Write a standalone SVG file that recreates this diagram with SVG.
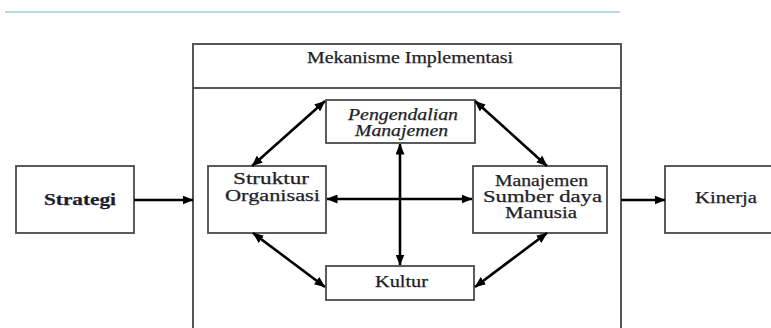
<svg xmlns="http://www.w3.org/2000/svg" width="771" height="328" viewBox="0 0 771 328">
  <defs>
    <style>
      .box { fill: #fff; stroke: #4a4a4a; stroke-width: 1.8; }
      .outer { fill: #fff; stroke: #555; stroke-width: 2; }
      .t { font-family: 'Liberation Serif', 'DejaVu Serif', 'Times New Roman', Times, serif; font-size: 16px; fill: #1e1e2a; text-anchor: middle; stroke: #1e1e2a; stroke-width: 0.25; }
      .it { font-style: italic; }
      .con { stroke: #000; stroke-width: 2.6; fill: none; }
      .one { marker-end: url(#ah); }
      .two { marker-start: url(#ah); marker-end: url(#ah); }
    </style>
    <marker id="ah" markerUnits="userSpaceOnUse" markerWidth="11" markerHeight="9" refX="10.5" refY="4.5" orient="auto-start-reverse" viewBox="0 0 11 9">
      <path d="M0,0 L11,4.5 L0,9 z" fill="#000"/>
    </marker>
  </defs>

  <line x1="5" y1="12" x2="620" y2="12" stroke="#9fcbe3" stroke-width="1.5"/>

  <g id="mekanisme">
    <rect class="outer" x="193" y="44" width="428" height="300"/>
    <line x1="193" y1="88" x2="621" y2="88" stroke="#555" stroke-width="2"/>
    <text class="t" x="410" y="63" font-family="Liberation Serif, serif" font-size="15" textLength="206" lengthAdjust="spacingAndGlyphs">Mekanisme Implementasi</text>
  </g>

  <g id="strategi">
    <rect class="box" x="16" y="166" width="118" height="67"/>
    <text class="t" x="80" y="205" font-family="Liberation Serif, serif" font-weight="bold" textLength="72" lengthAdjust="spacingAndGlyphs">Strategi</text>
  </g>

  <g id="pengendalian">
    <rect class="box" x="326" y="100" width="149" height="43"/>
    <text class="t it" x="403" y="120" font-family="Liberation Serif, serif" textLength="110" lengthAdjust="spacingAndGlyphs">Pengendalian</text>
    <text class="t it" x="401.5" y="136" font-family="Liberation Serif, serif" textLength="93" lengthAdjust="spacingAndGlyphs">Manajemen</text>
  </g>

  <g id="struktur">
    <rect class="box" x="208" y="166" width="118" height="67"/>
    <text class="t" x="271" y="184" font-family="Liberation Serif, serif" textLength="76" lengthAdjust="spacingAndGlyphs">Struktur</text>
    <text class="t" x="272.5" y="201" font-family="Liberation Serif, serif" textLength="95" lengthAdjust="spacingAndGlyphs">Organisasi</text>
  </g>

  <g id="sdm">
    <rect class="box" x="473" y="166" width="134" height="67"/>
    <text class="t" x="541.5" y="186" font-family="Liberation Serif, serif" textLength="93" lengthAdjust="spacingAndGlyphs">Manajemen</text>
    <text class="t" x="542.5" y="202" font-family="Liberation Serif, serif" textLength="119" lengthAdjust="spacingAndGlyphs">Sumber daya</text>
    <text class="t" x="541" y="218" font-family="Liberation Serif, serif" textLength="72" lengthAdjust="spacingAndGlyphs">Manusia</text>
  </g>

  <g id="kultur">
    <rect class="box" x="326" y="266" width="148" height="34"/>
    <text class="t" x="401.5" y="287" font-family="Liberation Serif, serif" textLength="53" lengthAdjust="spacingAndGlyphs">Kultur</text>
  </g>

  <g id="kinerja">
    <rect class="box" x="665" y="166" width="120" height="67"/>
    <text class="t" x="726" y="203" font-family="Liberation Serif, serif" textLength="62" lengthAdjust="spacingAndGlyphs">Kinerja</text>
  </g>

  <g id="connectors">
    <line class="con one" x1="134" y1="200" x2="193" y2="200"/>
    <line class="con one" x1="621" y1="200" x2="665" y2="200"/>
    <line class="con two" x1="327" y1="199" x2="472" y2="199"/>
    <line class="con two" x1="400" y1="144" x2="400" y2="265"/>
    <line class="con two" x1="325" y1="101" x2="252" y2="166"/>
    <line class="con two" x1="475" y1="101" x2="547" y2="166"/>
    <line class="con two" x1="253" y1="233" x2="325" y2="287"/>
    <line class="con two" x1="547" y1="233" x2="475" y2="287"/>
  </g>
</svg>
